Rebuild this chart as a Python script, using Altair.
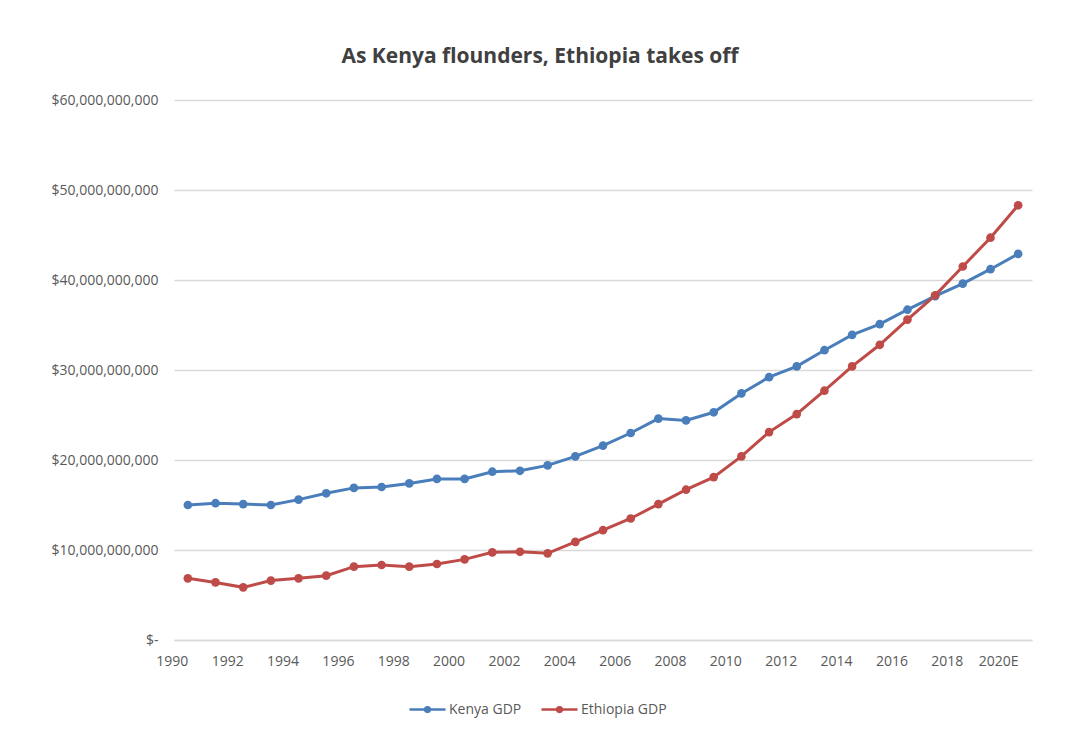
import altair as alt
import pandas as pd

years = [str(y) for y in range(1990, 2021)]
kenya_gdp_bn = [15.0, 15.2, 15.1, 15.0, 15.6, 16.3, 16.9, 17.0, 17.4, 17.9, 17.9,
                18.7, 18.8, 19.4, 20.4, 21.6, 23.0, 24.6, 24.4, 25.3, 27.4,
                29.2, 30.4, 32.2, 33.9, 35.1, 36.7, 38.2, 39.6, 41.2, 42.9]
ethiopia_gdp_bn = [6.85, 6.4, 5.85, 6.6, 6.85, 7.15, 8.15, 8.33, 8.15, 8.44, 8.96,
                   9.74, 9.8, 9.63, 10.9, 12.2, 13.5, 15.1, 16.7, 18.1, 20.4,
                   23.1, 25.1, 27.7, 30.4, 32.8, 35.6, 38.3, 41.5, 44.7, 48.3]
series_names = ["Kenya GDP", "Ethiopia GDP"]
series_colors = ["#4A7EBB", "#BE4B48"]
x_label_years = [str(y) for y in range(1990, 2021, 2)]
y_ticks = [0, 10e9, 20e9, 30e9, 40e9, 50e9, 60e9]

rows = []
for i, yr in enumerate(years):
    rows.append({"year": yr, "series": series_names[0], "gdp": kenya_gdp_bn[i] * 1e9})
    rows.append({"year": yr, "series": series_names[1], "gdp": ethiopia_gdp_bn[i] * 1e9})
df = pd.DataFrame(rows)

FONT = "Open Sans"
LABEL_COLOR = "#595959"
GRID = "#d9d9d9"

color = alt.Color(
    "series:N",
    scale=alt.Scale(domain=series_names, range=series_colors),
    sort=series_names,
    legend=alt.Legend(
        title=None,
        orient="none",
        direction="horizontal",
        legendX=234,
        legendY=590,
        symbolType="M-1,0L1,0M-0.13,0A0.13,0.13,0,1,0,0.13,0A0.13,0.13,0,1,0,-0.13,0Z",
        symbolSize=1300,
        symbolStrokeWidth=2.5,
        labelFont=FONT,
        labelFontSize=14,
        labelColor=LABEL_COLOR,
        columnPadding=14,
        labelOffset=2,
    ),
)

x = alt.X(
    "year:O",
    sort=years,
    title=None,
    axis=alt.Axis(
        values=x_label_years,
        labelExpr="datum.value == '2020' ? '2020E' : datum.value",
        labelAngle=0,
        labelAlign="right",
        labelFont=FONT,
        labelFontSize=14,
        labelColor=LABEL_COLOR,
        labelPadding=14,
        ticks=False,
        domain=True,
        domainColor=GRID,
        domainWidth=1.5,
        grid=False,
    ),
)

y = alt.Y(
    "gdp:Q",
    title=None,
    scale=alt.Scale(domain=[0, 60e9], nice=False),
    axis=alt.Axis(
        values=y_ticks,
        labelExpr="datum.value == 0 ? '$-' : '$' + format(datum.value, ',')",
        labelFont=FONT,
        labelFontSize=14,
        labelColor=LABEL_COLOR,
        labelPadding=16,
        ticks=False,
        domain=False,
        grid=True,
        gridColor=GRID,
        gridWidth=1.5,
    ),
)

base = alt.Chart(df).encode(x=x, y=y, color=color)
lines = base.mark_line(strokeWidth=3)
points = base.mark_point(filled=True, shape="circle", size=75, opacity=1)

chart = (
    alt.layer(lines, points)
    .properties(
        width=858,
        height=540,
        autosize=alt.AutoSizeParams(type="none"),
        padding={"left": 166, "top": 92, "right": 30, "bottom": 100},
        view=alt.ViewBackground(stroke="transparent", strokeOpacity=0),
        title=alt.TitleParams(
            "As Kenya flounders, Ethiopia takes off",
            font=FONT,
            fontSize=21,
            fontWeight="bold",
            color="#404040",
            anchor="middle",
            dx=-63,
            offset=26,
        ),
    )
    .configure_view(stroke="transparent", strokeWidth=0, strokeOpacity=0)
    .configure(background="white")
)

chart.save("out.html", embed_options={"renderer": "svg", "actions": False})
